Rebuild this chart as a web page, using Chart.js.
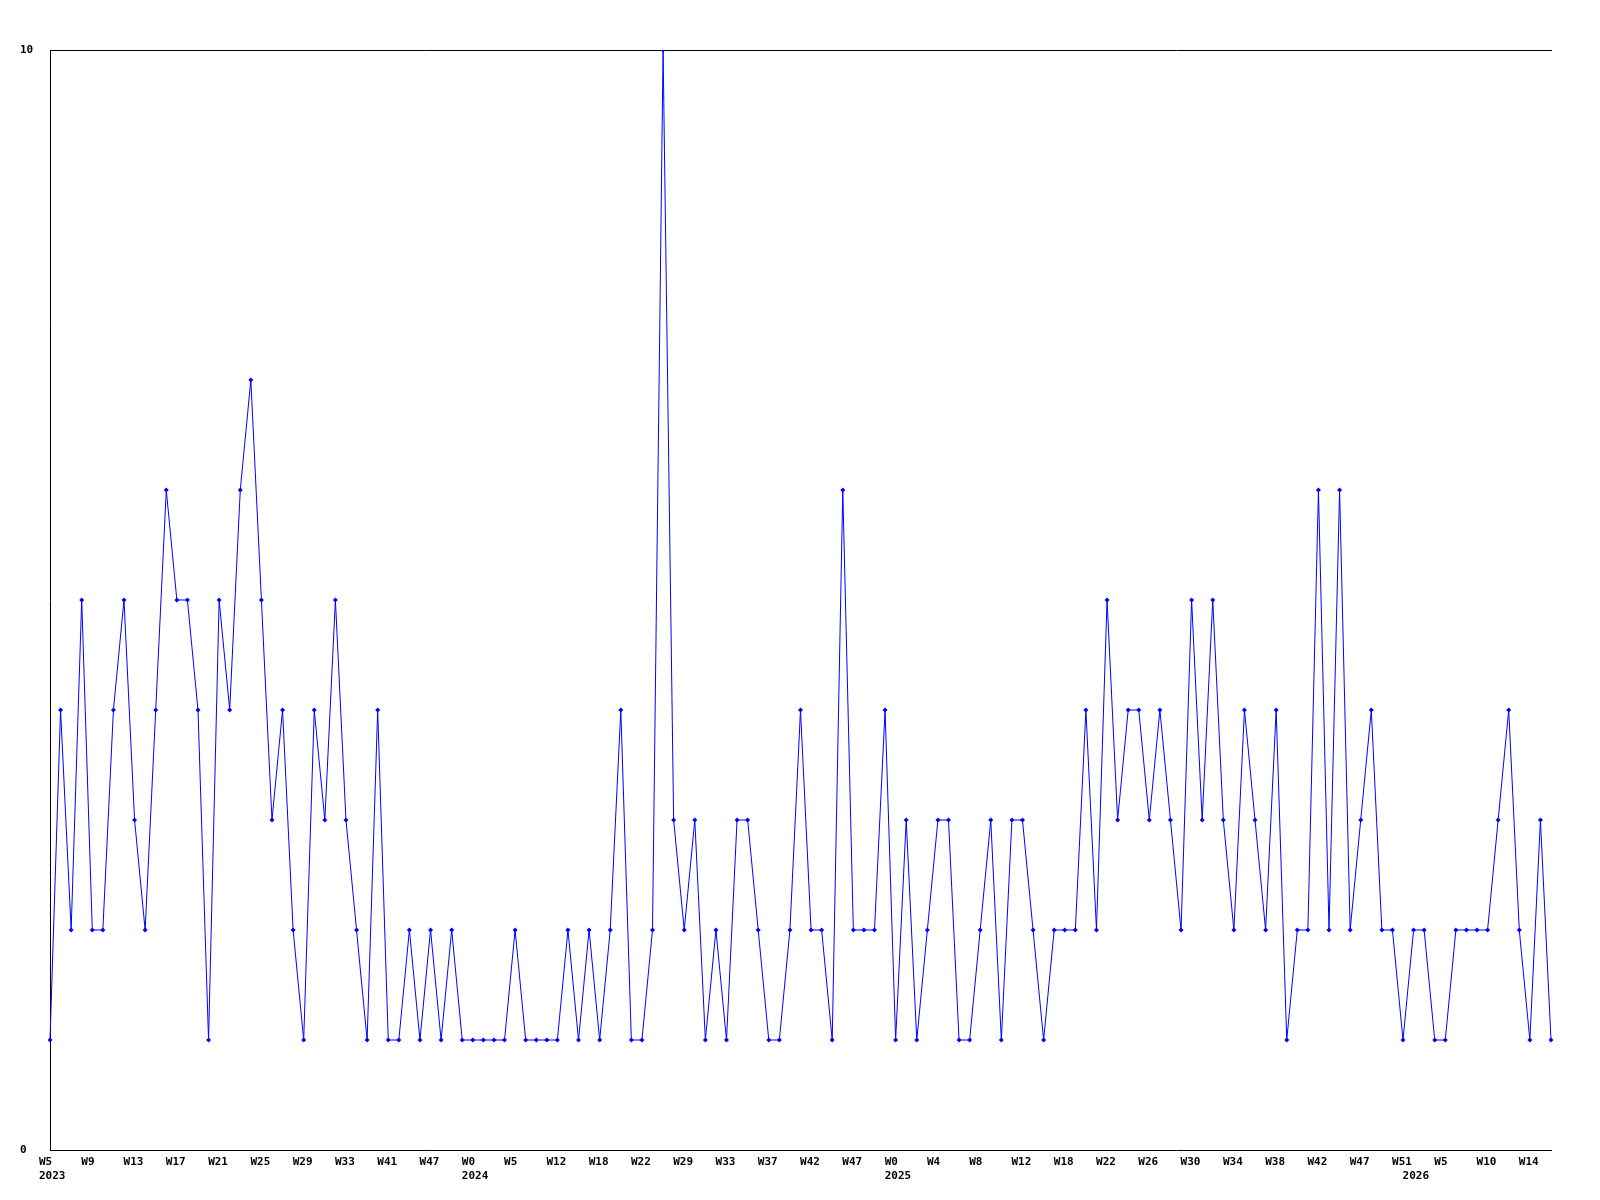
<!DOCTYPE html>
<html>
<head>
<meta charset="utf-8">
<script src="https://cdn.jsdelivr.net/npm/chart.js@4/dist/chart.umd.min.js"></script>
<style>
  body { margin: 0; background: #fff; }
</style>
</head>
<body>
<canvas id="myChart" width="1600" height="1200"></canvas>
<script>
// weekly counts, one per point (143 points)
const counts = [
  1, 4, 2, 5, 2, 2, 4, 5, 3, 2, 4, 6, 5, 5, 4, 1, 5, 4, 6, 7,
  5, 3, 4, 2, 1, 4, 3, 5, 3, 2, 1, 4, 1, 1, 2, 1, 2, 1, 2, 1,
  1, 1, 1, 1, 2, 1, 1, 1, 1, 2, 1, 2, 1, 2, 4, 1, 1, 2, 10, 3,
  2, 3, 1, 2, 1, 3, 3, 2, 1, 1, 2, 4, 2, 2, 1, 6, 2, 2, 2, 4,
  1, 3, 1, 2, 3, 3, 1, 1, 2, 3, 1, 3, 3, 2, 1, 2, 2, 2, 4, 2,
  5, 3, 4, 4, 3, 4, 3, 2, 5, 3, 5, 3, 2, 4, 3, 2, 4, 1, 2, 2,
  6, 2, 6, 2, 3, 4, 2, 2, 1, 2, 2, 1, 1, 2, 2, 2, 2, 3, 4, 2,
  1, 3, 1
];

// week labels, shown on every 4th point
const weekTicks = [
  'W5', 'W9', 'W13', 'W17', 'W21', 'W25', 'W29', 'W33', 'W41', 'W47',
  'W0', 'W5', 'W12', 'W18', 'W22', 'W29', 'W33', 'W37', 'W42', 'W47',
  'W0', 'W4', 'W8', 'W12', 'W18', 'W22', 'W26', 'W30', 'W34', 'W38',
  'W42', 'W47', 'W51', 'W5', 'W10', 'W14'
];
const weekStep = 4;

// year labels and the point where each year starts
const yearTicks = ['2023', '2024', '2025', '2026'];
const yearStart = [0, 40, 80, 129];

const labels = counts.map((v, i) => i);

function tickText(i) {
  let week = (i % weekStep === 0) ? (weekTicks[i / weekStep] || '') : '';
  let y = yearStart.indexOf(i);
  let year = y >= 0 ? yearTicks[y] : '';
  if (!week && !year) return null;
  return [week, year];
}

const font = { family: 'DejaVu Sans Mono', size: 11, weight: 'bold', lineHeight: 1.3 };

const ctx = document.getElementById('myChart').getContext('2d');
const chart = new Chart(ctx, {
  type: 'line',
  data: {
    labels: labels,
    datasets: [{
      data: counts,
      borderColor: '#0000ff',
      backgroundColor: '#0000ff',
      borderWidth: 1,
      tension: 0,
      pointStyle: 'rectRot',
      pointRadius: 2.5,
      pointBorderWidth: 0,
      pointHoverRadius: 2.5
    }]
  },
  options: {
    responsive: false,
    animation: false,
    devicePixelRatio: 1,
    layout: { padding: { left: 20, right: 49, top: 50, bottom: 0 } },
    plugins: { legend: { display: false }, tooltip: { enabled: false } },
    scales: {
      x: {
        type: 'category',
        offset: false,
        border: { display: true, color: '#000', width: 1 },
        grid: { display: false, drawTicks: false },
        ticks: {
          autoSkip: false,
          maxRotation: 0,
          minRotation: 0,
          align: 'start',
          labelOffset: -11,
          padding: 5,
          color: '#000',
          font: font,
          callback: function(value, index) { return tickText(index); }
        },
        afterFit: function(scale) { scale.height = 50; }
      },
      xTop: {
        type: 'category',
        position: 'top',
        offset: false,
        border: { display: true, color: '#000', width: 1 },
        grid: { display: false, drawTicks: false },
        ticks: { display: false },
        afterFit: function(scale) { scale.height = 0; }
      },
      y: {
        min: 0,
        max: 10,
        border: { display: true, color: '#000', width: 1 },
        grid: { display: false, drawTicks: false },
        afterBuildTicks: function(scale) {
          scale.ticks = [{ value: 0 }, { value: 10 }];
        },
        ticks: {
          crossAlign: 'far',
          padding: 0,
          color: '#000',
          font: font
        },
        afterFit: function(scale) { scale.width = 30; }
      }
    }
  }
});
</script>
</body>
</html>
